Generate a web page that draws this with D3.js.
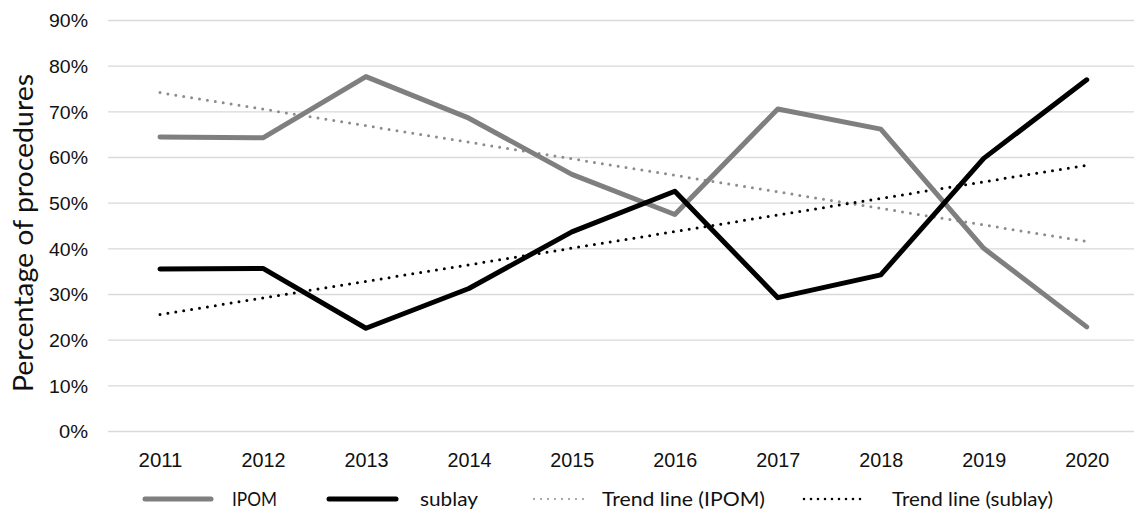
<!DOCTYPE html>
<html>
<head>
<meta charset="utf-8">
<script src="https://cdn.jsdelivr.net/npm/d3@7/dist/d3.min.js"></script>
<style>
  html, body { margin: 0; padding: 0; background: #fff; }
  svg { display: block; font-family: Lato, "Open Sans", sans-serif; }
</style>
</head>
<body>
<svg id="chart" width="1134" height="511"></svg>
<script>
const years = ["2011","2012","2013","2014","2015","2016","2017","2018","2019","2020"];
const ipom   = [64.4, 64.2, 77.6, 68.5, 56.2, 47.4, 70.5, 66.1, 40.0, 22.8];
const sublay = [35.5, 35.6, 22.5, 31.2, 43.6, 52.5, 29.2, 34.2, 59.7, 76.9];
const trendYears  = ["2011", "2020"];
const trendIpom   = [74.1, 41.5];
const trendSublay = [25.5, 58.2];
const yTicks = [0, 10, 20, 30, 40, 50, 60, 70, 80, 90];
const yTitle = "Percentage of procedures";
const legendLabels = ["IPOM", "sublay", "Trend line (IPOM)", "Trend line (sublay)"];

const svg = d3.select("#chart");
const gridLeft = 108, gridRight = 1134;
const x = d3.scalePoint().domain(years).range([160, 1086.7]);
const y = d3.scaleLinear().domain([0, 90]).range([431, 20]);

// Y axis with gridlines
const yAxis = d3.axisLeft(y)
  .tickValues(yTicks)
  .tickFormat(d => d + "%")
  .tickSizeInner(-(gridRight - gridLeft))
  .tickSizeOuter(0)
  .tickPadding(20);
const gy = svg.append("g").attr("transform", `translate(${gridLeft},0)`).call(yAxis);
gy.select(".domain").remove();
gy.selectAll(".tick line").attr("stroke", "#d9d9d9").attr("stroke-width", 1.3);
gy.selectAll(".tick text").attr("fill", "#111").style("font-size", "19px").attr("dy", "0.36em")
  .attr("textLength", 39).attr("lengthAdjust", "spacingAndGlyphs");
gy.selectAll(".tick text").filter(d => d === 0).attr("textLength", 29);

// X axis
const xAxis = d3.axisBottom(x).tickSize(0).tickPadding(22);
const gx = svg.append("g").attr("transform", `translate(0,${y(0)})`).call(xAxis);
gx.select(".domain").remove();
gx.selectAll(".tick text").attr("fill", "#111").style("font-size", "20px")
  .attr("textLength", 44).attr("lengthAdjust", "spacingAndGlyphs");

// Y title
svg.append("text")
  .attr("transform", `translate(33,233) rotate(-90)`)
  .attr("text-anchor", "middle")
  .attr("fill", "#111")
  .style("font-size", "26px")
  .attr("textLength", 318)
  .attr("lengthAdjust", "spacingAndGlyphs")
  .text(yTitle);

const line = d3.line().x(d => x(d[0])).y(d => y(d[1]));

// Trend lines
svg.append("path")
  .datum(trendYears.map((yr, i) => [yr, trendIpom[i]]))
  .attr("d", line).attr("fill", "none")
  .attr("stroke", "#8c8c8c").attr("stroke-width", 3)
  .attr("stroke-linecap", "round").attr("stroke-dasharray", "0,8");
svg.append("path")
  .datum(trendYears.map((yr, i) => [yr, trendSublay[i]]))
  .attr("d", line).attr("fill", "none")
  .attr("stroke", "#000").attr("stroke-width", 3)
  .attr("stroke-linecap", "round").attr("stroke-dasharray", "0,8");

// Main lines
svg.append("path")
  .datum(years.map((yr, i) => [yr, ipom[i]]))
  .attr("d", line).attr("fill", "none")
  .attr("stroke", "#7f7f7f").attr("stroke-width", 5)
  .attr("stroke-linejoin", "round").attr("stroke-linecap", "round");
svg.append("path")
  .datum(years.map((yr, i) => [yr, sublay[i]]))
  .attr("d", line).attr("fill", "none")
  .attr("stroke", "#000").attr("stroke-width", 5)
  .attr("stroke-linejoin", "round").attr("stroke-linecap", "round");

// Legend
const legY = 499;
const legItems = [
  { x1: 145, x2: 211, tx: 232, tl: 45,  color: "#7f7f7f", w: 5, dash: null },
  { x1: 329, x2: 396, tx: 420, tl: 58,  color: "#000",    w: 5, dash: null },
  { x1: 534, x2: 590, tx: 602, tl: 163, color: "#8c8c8c", w: 2, dash: "0,7" },
  { x1: 804, x2: 867, tx: 892, tl: 161, color: "#000",    w: 2.6, dash: "0,7" }
];
const lg = svg.append("g");
legItems.forEach((it, i) => {
  const l = lg.append("line")
    .attr("x1", it.x1).attr("x2", it.x2).attr("y1", legY).attr("y2", legY)
    .attr("stroke", it.color).attr("stroke-width", it.w).attr("stroke-linecap", "round");
  if (it.dash) l.attr("stroke-dasharray", it.dash);
  lg.append("text")
    .attr("x", it.tx).attr("y", legY + 7)
    .attr("fill", "#111").style("font-size", "20px")
    .attr("textLength", it.tl).attr("lengthAdjust", "spacingAndGlyphs")
    .text(legendLabels[i]);
});
</script>
</body>
</html>
